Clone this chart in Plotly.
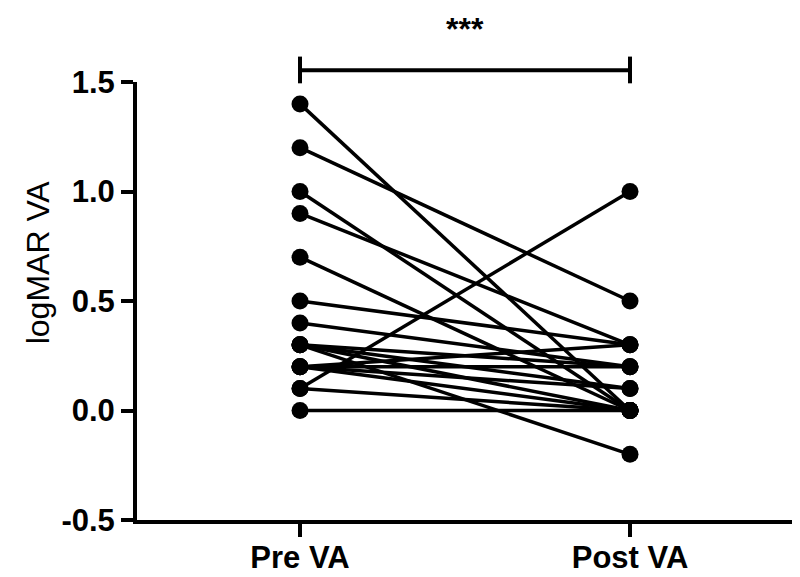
import plotly.graph_objects as go

categories = ["Pre VA", "Post VA"]
pre_va = [1.4, 1.2, 1.0, 0.9, 0.7, 0.5, 0.4, 0.3, 0.3, 0.3, 0.3, 0.2, 0.2, 0.2, 0.2, 0.1, 0.1, 0.0]
post_va = [0.0, 0.5, 0.0, 0.3, 0.0, 0.3, 0.2, 0.2, 0.1, -0.2, 0.0, 0.3, 0.2, 0.1, 0.0, 1.0, 0.0, 0.0]
y_ticks = [-0.5, 0.0, 0.5, 1.0, 1.5]
y_tick_labels = ["-0.5", "0.0", "0.5", "1.0", "1.5"]
significance = "***"
y_title = "logMAR VA"

FONT = "Liberation Sans, Arial, Helvetica"

fig = go.Figure()
for a, b in zip(pre_va, post_va):
    fig.add_trace(go.Scatter(
        x=[0, 1], y=[a, b], mode="lines+markers",
        line=dict(color="black", width=3.5),
        marker=dict(color="black", size=17),
        showlegend=False, cliponaxis=False, hoverinfo="skip",
    ))

# significance bracket
fig.add_shape(type="line", xref="x", yref="paper", x0=0, x1=1, y0=1.027, y1=1.027,
              line=dict(color="black", width=4))
fig.add_shape(type="line", xref="x", yref="paper", x0=0, x1=0, y0=0.997, y1=1.058,
              line=dict(color="black", width=4))
fig.add_shape(type="line", xref="x", yref="paper", x0=1, x1=1, y0=0.997, y1=1.058,
              line=dict(color="black", width=4))
fig.add_annotation(x=0.5, xref="x", y=1.12, yref="paper", text="<b>" + significance + "</b>",
                   showarrow=False, font=dict(family=FONT, size=32, color="black"),
                   yanchor="middle")
# y-axis title
fig.add_annotation(x=-0.150, xref="paper", y=0.589, yref="paper", text=y_title,
                   textangle=-90, showarrow=False, xanchor="center", yanchor="middle",
                   font=dict(family=FONT, size=32, color="black"))

fig.update_layout(
    width=792, height=569,
    margin=dict(l=129, r=5, t=74, b=57),
    paper_bgcolor="white", plot_bgcolor="white",
    font=dict(family=FONT, color="black"),
)
fig.update_xaxes(
    range=[-0.494, 1.5], tickvals=[0, 1], ticktext=categories, automargin=False,
    showline=True, linecolor="black", linewidth=4, showgrid=False, zeroline=False,
    ticks="outside", ticklen=13, tickwidth=4, tickcolor="black", ticklabelstandoff=-6,
    tickfont=dict(family=FONT, size=31, color="black", weight="bold"),
)
fig.update_yaxes(
    range=[-0.5, 1.5], tickvals=y_ticks, ticktext=y_tick_labels, automargin=False,
    showline=True, linecolor="black", linewidth=4, showgrid=False, zeroline=False,
    ticks="outside", ticklen=12, tickwidth=4, tickcolor="black",
    tickfont=dict(family=FONT, size=31, color="black", weight="bold"),
)
fig.write_html("out.html")
